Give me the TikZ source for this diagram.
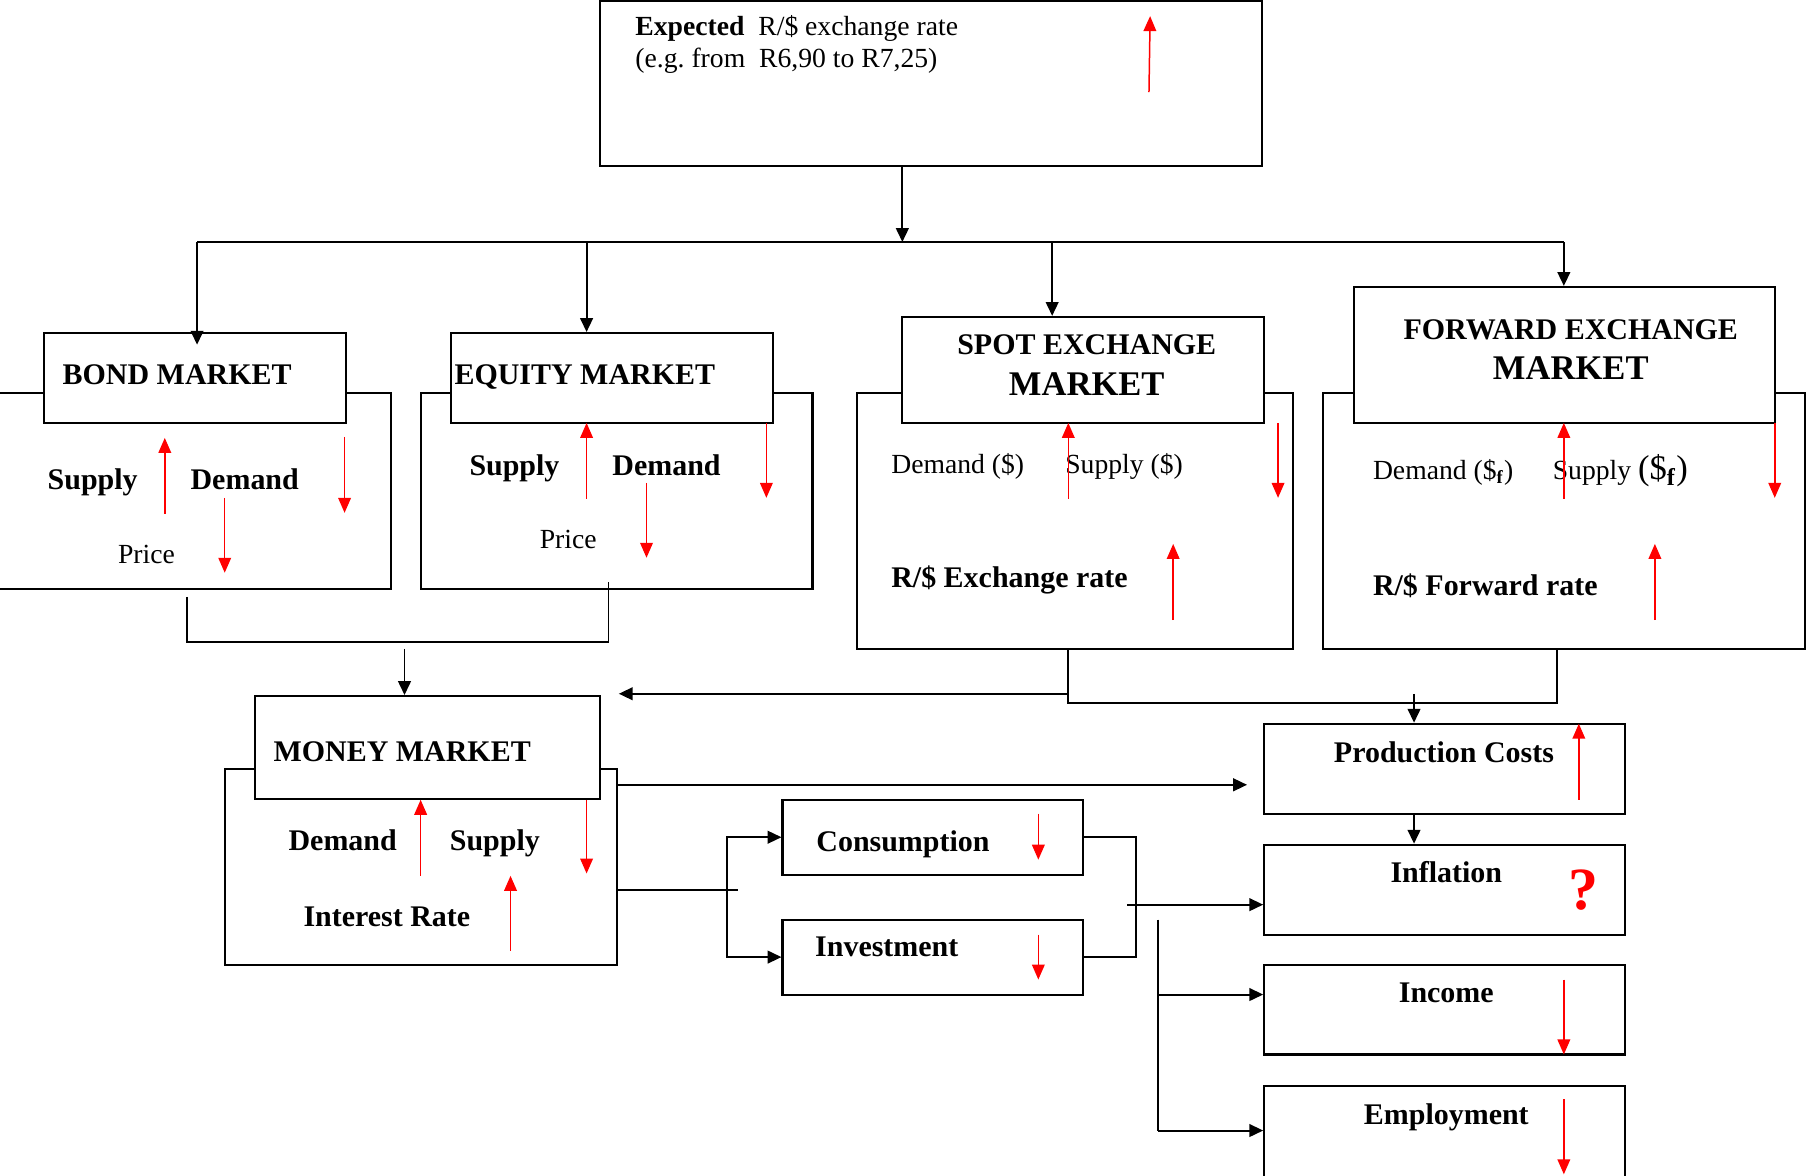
\documentclass[tikz,border=0pt]{standalone}
\usepackage{fontspec}
\setmainfont{Liberation Serif}
\usepackage{tikz}
\usetikzlibrary{arrows.meta, fit, positioning}
\tikzset{box/.style={draw=black, line width=0.9pt, fill=white, inner sep=0pt},
    txt/.style={inner sep=0pt, anchor=base west, font=\fontsize{12}{14}\selectfont},
    btxt/.style={inner sep=0pt, anchor=base west, font=\fontsize{13}{15}\selectfont\bfseries},
    ctxt/.style={btxt, anchor=base},
    redarr/.style={draw=red, line width=0.65pt, -{Triangle[length=6.5pt,width=5.5pt]}},
    flow/.style={draw=black, line width=0.85pt, -{Triangle[length=6pt,width=5.5pt]}},
    wire/.style={draw=black, line width=0.85pt}}

\begin{document}
\begin{tikzpicture}[x=0.5pt, y=-0.5pt]
                 \useasboundingbox[fill=white] (0,0) rectangle (1568,1020);
% expected rate
                 \node[box, fit={(521,1) (1095,144)}] (topB) {};
                 \node[txt] (expT) at (551,31) {\textbf{Expected}\ \ R/\$ exchange rate};
                 \node[txt] (expR) at (551,59) {(e.g.\ from\ \ R6,90 to R7,25)};
                 \draw[redarr] (997,80) -- (998,14);

% bond market
                 \node[box, fit={(-10,341) (339,511)}] (bondO) {};
                 \node[box, fit={(38,289) (300,367)}] (bondT) {};
                 \node[btxt] (bondL) at (54,334) {BOND MARKET};
                 \node[btxt] (bondS) at (41,425) {Supply};
                 \node[btxt] (bondD) at (165,425) {Demand};
                 \node[txt] (bondP) at (102,489) {Price};
                 \draw[redarr] (143,446) -- (143,380);
                 \draw[redarr] (299,379) -- (299,445);
                 \draw[redarr] (195,432) -- (195,497);

% equity market
                 \node[box, fit={(365,341) (705,511)}] (eqO) {};
                 \node[box, fit={(391,289) (671,367)}] (eqT) {};
                 \node[btxt] (eqL) at (394,334) {EQUITY MARKET};
                 \node[btxt] (eqS) at (407,413) {Supply};
                 \node[btxt] (eqD) at (531,413) {Demand};
                 \node[txt] (eqP) at (468,476) {Price};
                 \draw[redarr] (509,433) -- (509,367);
                 \draw[redarr] (665,367) -- (665,432);
                 \draw[redarr] (561,419) -- (561,484);

% spot exchange market
                 \node[box, fit={(744,341) (1122,563)}] (spotO) {};
                 \node[box, fit={(783,275) (1097,367)}] (spotT) {};
                 \node[ctxt] (spotL) at (943,308) {SPOT EXCHANGE};
                 \node[ctxt, font=\fontsize{15}{17}\selectfont\bfseries] (spotM) at (943,343) {MARKET};
                 \node[txt] (spotD) at (773,411) {Demand (\$)};
                 \node[txt] (spotS) at (924,411) {Supply (\$)};
                 \node[btxt] (spotR) at (773,510) {R/\$ Exchange rate};
                 \draw[redarr] (927,433) -- (927,367);
                 \draw[redarr] (1109,367) -- (1109,432);
                 \draw[redarr] (1018,538) -- (1018,472);

% forward exchange market
                 \node[box, fit={(1148,341) (1566,563)}] (fwdO) {};
                 \node[box, fit={(1175,249) (1540,367)}] (fwdT) {};
                 \node[ctxt] (fwdL) at (1363,295) {FORWARD EXCHANGE};
                 \node[ctxt, font=\fontsize{15}{17}\selectfont\bfseries] (fwdM) at (1363,329) {MARKET};
                 \node[txt] (fwdD) at (1191,416) {Demand (\$\textsubscript{\textbf{f}})};
                 \node[txt] (fwdS) at (1347,416) {Supply {\fontsize{15}{17}\selectfont(\$\textsubscript{\textbf{f}})}};
                 \node[btxt] (fwdR) at (1191,517) {R/\$ Forward rate};
                 \draw[redarr] (1357,433) -- (1357,367);
                 \draw[redarr] (1540,367) -- (1540,432);
                 \draw[redarr] (1436,538) -- (1436,472);

% money market
                 \node[box, fit={(195,667) (535,837)}] (mmO) {};
                 \node[box, fit={(221,604) (521,693)}] (mmT) {};
                 \node[btxt] (mmL) at (237,661) {MONEY MARKET};
                 \node[btxt] (mmD) at (250,738) {Demand};
                 \node[btxt] (mmS) at (390,738) {Supply};
                 \node[btxt] (mmI) at (263,804) {Interest Rate};
                 \draw[redarr] (365,760) -- (365,694);
                 \draw[redarr] (509,694) -- (509,758);
                 \draw[redarr] (443,825) -- (443,760);

% spending
                 \node[box, fit={(679,694) (940,759)}] (conB) {};
                 \node[btxt] (conL) at (708,739) {Consumption};
                 \draw[redarr] (901,706) -- (901,746);
                 \node[box, fit={(679,798) (940,863)}] (invB) {};
                 \node[btxt] (invL) at (707,830) {Investment};
                 \draw[redarr] (901,811) -- (901,850);

% outcomes
                 \node[box, fit={(1097,628) (1410,706)}] (pcB) {};
                 \node[ctxt] (pcL) at (1253,662) {Production Costs};
                 \draw[redarr] (1370,694) -- (1370,628);
                 \node[box, fit={(1097,733) (1410,811)}] (infB) {};
                 \node[ctxt] (infL) at (1255,766) {Inflation};
                 \node[ctxt, text=red, font=\fontsize{26}{28}\selectfont\bfseries] (infQ) at (1374,789) {?};
                 \node[box, fit={(1097,837) (1410,915)}] (incB) {};
                 \node[ctxt] (incL) at (1255,870) {Income};
                 \draw[redarr] (1357,850) -- (1357,915);
                 \node[box, fit={(1097,942) (1410,1030)}] (empB) {};
                 \node[ctxt] (empL) at (1255,976) {Employment};
                 \draw[redarr] (1357,954) -- (1357,1019);

% connectors
                 \coordinate (split) at (783,210);
                 \coordinate (hl) at (171,210);
                 \coordinate (hr) at (1357,210);
                 \coordinate (jEq) at (509,210);
                 \coordinate (jSpot) at (913,210);
                 \draw[flow] (split |- topB.south) -- (split);
                 \draw[wire] (hl) -- (hr);
                 \draw[flow, shorten >=-5.5pt] (hl) -- (hl |- bondT.north);
                 \draw[flow] (jEq) -- (jEq |- eqT.north);
                 \draw[flow] (jSpot) -- (jSpot |- spotT.north);
                 \draw[flow] (hr) -- (hr |- fwdT.north);

                 \coordinate (bq1) at (162,518);
                 \coordinate (bq2) at (528,505);
                 \coordinate (bqb) at (351,557);
                 \draw[wire] (bq1) |- (bqb) -| (bq2);
                 \coordinate (mmIn) at (351,563);
                 \draw[flow] (mmIn) -- (mmIn |- mmT.north);

                 \coordinate (sq1) at (927,563);
                 \coordinate (sq2) at (1351,563);
                 \coordinate (sqb) at (1227,610);
                 \draw[wire] (sq1) |- (sqb) -| (sq2);
                 \coordinate (sqL) at (927,602);
                 \coordinate (mmArr) at (537,602);
                 \draw[flow] (sqL) -- (mmArr);
                 \coordinate (pcIn) at (1227,602);
                 \draw[flow] (pcIn) -- (pcIn |- pcB.north);

                 \coordinate (mmR) at (535,681);
                 \draw[flow, shorten >=7pt] (mmR) -- (mmR -| pcB.west);
                 \coordinate (mmR2) at (535,772);
                 \coordinate (ciT) at (640,772);
                 \coordinate (ciJ) at (631,772);
                 \draw[wire] (mmR2) -- (ciT);
                 \draw[flow] (ciJ) |- (conB.west);
                 \draw[flow] (ciJ) |- (invB.west);

                 \coordinate (ciR) at (986,780);
                 \draw[wire] (conB.east) -| (ciR) |- (invB.east);
                 \coordinate (ciOut) at (978,785);
                 \draw[flow] (ciOut) -- (ciOut -| infB.west);
                 \coordinate (fan) at (1005,798);
                 \coordinate (fanI) at (1005,863);
                 \coordinate (fanE) at (1005,981);
                 \draw[wire] (fan) -- (fanE);
                 \draw[flow] (fanI) -- (fanI -| incB.west);
                 \draw[flow] (fanE) -- (fanE -| empB.west);
                 \draw[flow] (pcIn |- pcB.south) -- (pcIn |- infB.north);
\end{tikzpicture}
\end{document}
